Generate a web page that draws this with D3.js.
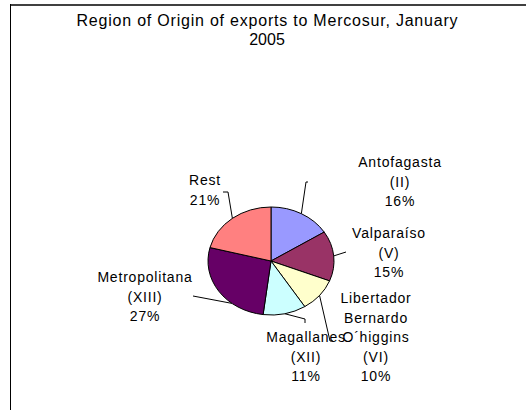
<!DOCTYPE html>
<html>
<head>
<meta charset="utf-8">
<script src="https://cdn.jsdelivr.net/npm/d3@7"></script>
<style>
  body { margin: 0; background: #fff; }
  text { font-family: "Liberation Sans", Arial, sans-serif; fill: #000; }
</style>
</head>
<body>
<script>
const width = 526
const height = 410

// data
const regions = ['Antofagasta (II)', 'Valparaíso (V)', 'Libertador Bernardo O´higgins (VI)', 'Magallanes (XII)', 'Metropolitana (XIII)', 'Rest']
const shares = [16, 15, 10, 11, 27, 21]
const titleLines = ['Region of Origin of exports to Mercosur, January', '2005']

// label text lines, split the way the chart wraps them
const labelLines = [
  ['Antofagasta', '(II)'],
  ['Valparaíso', '(V)'],
  ['Libertador', 'Bernardo', 'O´higgins', '(VI)'],
  ['Magallanes', '(XII)'],
  ['Metropolitana', '(XIII)'],
  ['Rest']
]

const colors = ['#9999ff', '#993366', '#ffffcc', '#ccffff', '#660066', '#ff8080']

// pie geometry (slightly flattened, like the tilted excel pie)
const cx = 271, cy = 261
const rx = 63, ry = 54

// label placement: center of first line relative to pie center, leader elbow points,
// and where along the slice the leader touches the edge (0..1, default middle)
const labelPos = [
  {x: 129, y: -99, leader: [[35, -79], [37, -79]]},
  {x: 118, y: -28, leader: [[75, -9]]},
  {x: 105, y: 37, leader: [[59, 80], [62, 80]]},
  {x: 35, y: 76, leader: [[34, 58], [34, 62]]},
  {x: -126, y: 16, leader: [[-78, 35]], at: 0.32},
  {x: -66, y: -81, leader: [[-43, -69], [-48, -69]]}
]
const lineH = 19.6

let svg = d3.select('body')
            .append('svg')
            .attr('width', width)
            .attr('height', height)

// frame
svg.append('line')
   .attr('x1', 10).attr('x2', width).attr('y1', 5).attr('y2', 5)
   .attr('stroke', '#404040').attr('stroke-width', 2)
svg.append('line')
   .attr('x1', 10.5).attr('x2', 10.5).attr('y1', 4).attr('y2', height)
   .attr('stroke', '#000').attr('stroke-width', 1)

// title
svg.append('text')
   .attr('text-anchor', 'middle')
   .style('font-size', '16px')
   .selectAll('tspan')
   .data(titleLines)
   .enter()
   .append('tspan')
   .attr('x', 267)
   .attr('y', (d, i) => 25.5 + i * 19)
   .attr('textLength', (d, i) => i == 0 ? 381 : null)
   .attr('lengthAdjust', 'spacing')
   .text(d => d)

let pie = d3.pie().sort(null).value(d => d)
let arcs = pie(shares)
let arc = d3.arc().innerRadius(0).outerRadius(rx)

let g = svg.append('g')
           .attr('transform', `translate(${cx}, ${cy})`)

g.append('g')
 .attr('transform', `scale(1, ${ry / rx})`)
 .selectAll('path')
 .data(arcs)
 .enter()
 .append('path')
 .attr('d', arc)
 .attr('fill', (d, i) => colors[i])
 .attr('stroke', '#000')
 .attr('stroke-width', 1)
 .attr('vector-effect', 'non-scaling-stroke')

// leader lines start on the pie edge inside the slice
let edge = (d, i) => {
  let t = labelPos[i].at == null ? 0.5 : labelPos[i].at
  let a = d.startAngle + (d.endAngle - d.startAngle) * t
  return [rx * Math.sin(a), -ry * Math.cos(a)]
}

g.selectAll('.leader')
 .data(arcs)
 .enter()
 .append('polyline')
 .attr('class', 'leader')
 .attr('points', (d, i) => [edge(d, i)].concat(labelPos[i].leader).map(p => p.join(',')).join(' '))
 .attr('fill', 'none')
 .attr('stroke', '#000')
 .attr('stroke-width', 1)

let labels = g.selectAll('.label')
              .data(arcs)
              .enter()
              .append('text')
              .attr('class', 'label')
              .attr('text-anchor', 'middle')
              .style('font-size', '14px')
              .style('letter-spacing', '0.8px')

labels.selectAll('tspan')
      .data((d, i) => labelLines[i].concat([d.data + '%']).map(t => ({t: t, i: i})))
      .enter()
      .append('tspan')
      .attr('x', d => labelPos[d.i].x)
      .attr('y', (d, j) => labelPos[d.i].y + 5 + j * lineH)
      .text(d => d.t)
</script>
</body>
</html>
